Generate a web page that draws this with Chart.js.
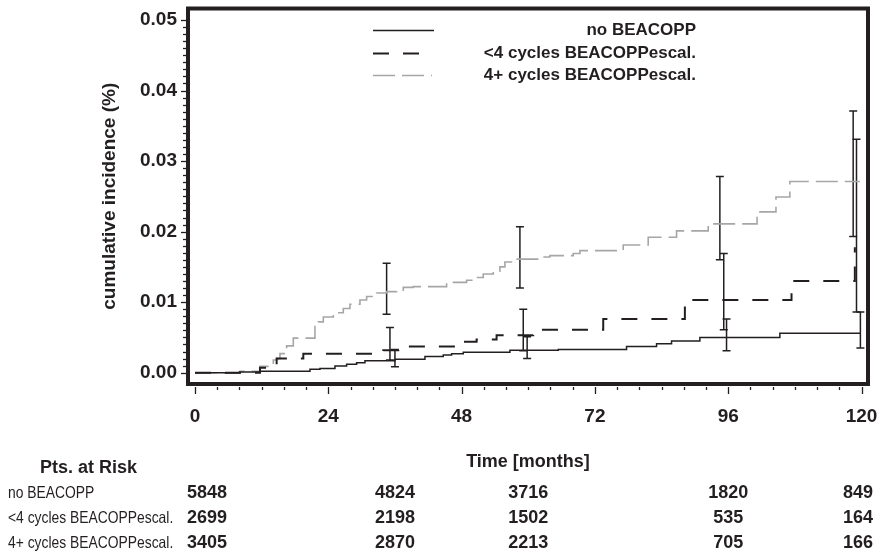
<!DOCTYPE html>
<html>
<head>
<meta charset="utf-8">
<script src="https://cdn.jsdelivr.net/npm/chart.js@4.4.1/dist/chart.umd.min.js"></script>
<style>
  html, body { margin: 0; padding: 0; background: #fff; }
  #wrap { width: 886px; height: 553px; }
</style>
</head>
<body>
<div id="wrap"><canvas id="c" width="886" height="553"></canvas></div>
<script>
// cumulative incidence curves, step points (month, value)
const noBeaMonths = [0, 8, 11.7, 20.7, 22.5, 25.2, 27.3, 29.1, 30.6, 36.0, 41.4, 44.7, 46.2, 48.3, 56.7, 65.4, 77.7, 83.1, 85.8, 90.9, 105.3, 119.8];
const noBeaValues = [0, 0.0001, 0.0002, 0.0005, 0.0006, 0.00095, 0.0012, 0.0014, 0.0017, 0.0019, 0.0023, 0.0025, 0.0027, 0.0029, 0.0032, 0.0033, 0.0037, 0.0041, 0.0045, 0.0050, 0.0056, 0.0056];

const lt4Months = [0, 11.7, 14.7, 19.5, 33.9, 36.6, 46.8, 50.7, 54.3, 60.9, 73.5, 88.2, 107.4, 118.8];
const lt4Values = [0, 0.0007, 0.0020, 0.0027, 0.0032, 0.0037, 0.0044, 0.0047, 0.0053, 0.0061, 0.0076, 0.0103, 0.0130, 0.0178];

const ge4Months = [0, 8.1, 11.7, 14.1, 14.7, 15.3, 16.5, 17.7, 21.6, 22.2, 23.1, 24.9, 26.7, 27.9, 29.7, 30.9, 32.7, 34.5, 36.3, 37.5, 39.3, 45.3, 48.9, 50.7, 51.9, 53.7, 54.9, 55.8, 57.3, 62.4, 63.9, 68.1, 69.3, 77.1, 81.6, 86.7, 92.4, 101.2, 104.6, 107.1, 119.7];
const ge4Values = [0, 0.0002, 0.0009, 0.0018, 0.0020, 0.0027, 0.0038, 0.0049, 0.0068, 0.0072, 0.0079, 0.0085, 0.0091, 0.0097, 0.0103, 0.0108, 0.0113, 0.0115, 0.0117, 0.0121, 0.0122, 0.0128, 0.0131, 0.0135, 0.0140, 0.0144, 0.0150, 0.0157, 0.0161, 0.0164, 0.0166, 0.0169, 0.0173, 0.0181, 0.0192, 0.0201, 0.0211, 0.0228, 0.0249, 0.0271, 0.0271];

// confidence intervals
const noBeaBarMonths = [36.0, 59.8, 95.7, 119.8];
const noBeaBarLo = [0.00085, 0.0020, 0.0031, 0.0035];
const noBeaBarHi = [0.0033, 0.0051, 0.0076, 0.0086];
const lt4BarMonths = [35.1, 59.1, 95.2, 119.1];
const lt4BarLo = [0.0018, 0.0031, 0.0061, 0.0086];
const lt4BarHi = [0.0064, 0.0090, 0.0169, 0.0331];
const ge4BarMonths = [34.5, 58.5, 94.5, 118.5];
const ge4BarLo = [0.0083, 0.0120, 0.0160, 0.0193];
const ge4BarHi = [0.0155, 0.0207, 0.0278, 0.0371];

// axes
const xTicks = [0, 24, 48, 72, 96, 120];
const yTicks = [0, 0.01, 0.02, 0.03, 0.04, 0.05];

// patients at risk
const riskMonths = [0, 36, 60, 96, 120];
const riskLabels = ['no BEACOPP', '<4 cycles BEACOPPescal.', '4+ cycles BEACOPPescal.'];
const riskNoBea = [5848, 4824, 3716, 1820, 849];
const riskLt4 = [2699, 2198, 1502, 535, 164];
const riskGe4 = [3405, 2870, 2213, 705, 166];

const FONT = '"Liberation Sans", Arial, sans-serif';
const INK = '#231f20';
const GRAY = '#a6a6a6';

function pts(xs, ys) {
  return xs.map((x, i) => ({ x: x, y: ys[i] }));
}

const curves = [
  { label: 'no BEACOPP', data: pts(noBeaMonths, noBeaValues), borderColor: INK, borderWidth: 1.5, borderDash: [], sample: 61 },
  { label: '<4 cycles BEACOPPescal.', data: pts(lt4Months, lt4Values), borderColor: INK, borderWidth: 2, borderDash: [16, 14], sample: 48 },
  { label: '4+ cycles BEACOPPescal.', data: pts(ge4Months, ge4Values), borderColor: GRAY, borderWidth: 1.6, borderDash: [22, 7], sample: 59 }
].map(d => Object.assign(d, { showLine: true, stepped: true, pointRadius: 0, fill: false }));

const bars = [];
[[noBeaBarMonths, noBeaBarLo, noBeaBarHi], [lt4BarMonths, lt4BarLo, lt4BarHi], [ge4BarMonths, ge4BarLo, ge4BarHi]].forEach(set => {
  set[0].forEach((m, i) => {
    bars.push({
      label: 'ci',
      data: [{ x: m, y: set[1][i] }, { x: m, y: set[2][i] }],
      showLine: true,
      borderColor: INK,
      borderWidth: 1.5,
      pointStyle: 'line',
      pointRadius: 4,
      pointBorderWidth: 1.5,
      pointBorderColor: INK,
      pointHoverRadius: 4
    });
  });
});

// draws text squeezed horizontally, to mimic the narrow font of the table
function narrowText(ctx, text, x, y, size, squeeze) {
  ctx.save();
  ctx.font = size + 'px ' + FONT;
  ctx.translate(x, y);
  ctx.scale(squeeze, 1);
  ctx.fillText(text, 0, 0);
  ctx.restore();
}

const framePlugin = {
  id: 'frame',
  afterDraw(chart) {
    const ctx = chart.ctx;
    const a = chart.chartArea;
    const xs = chart.scales.x, ys = chart.scales.y;
    ctx.save();
    // box
    ctx.strokeStyle = INK;
    ctx.lineWidth = 4;
    ctx.strokeRect(a.left, a.top, a.right - a.left, a.bottom - a.top);

    // x ticks
    ctx.lineWidth = 1.3;
    for (let m = 0; m <= 120; m += 4) {
      const px = Math.round(xs.getPixelForValue(m)) + 0.5;
      const major = m % 24 === 0;
      ctx.beginPath();
      ctx.moveTo(px, a.bottom + 3);
      ctx.lineTo(px, a.bottom + (major ? 10 : 6));
      ctx.stroke();
    }
    // y ticks
    for (let k = 0; k <= 50; k++) {
      const py = Math.round(ys.getPixelForValue(k / 1000)) + 0.5;
      const major = k % 10 === 0;
      ctx.beginPath();
      ctx.moveTo(a.left - 2, py);
      ctx.lineTo(a.left - (major ? 7 : 5), py);
      ctx.stroke();
    }

    // legend
    const rowsY = [30, 53, 75];
    ctx.font = 'bold 17px ' + FONT;
    ctx.textAlign = 'right';
    ctx.textBaseline = 'middle';
    curves.forEach((d, i) => {
      ctx.strokeStyle = d.borderColor;
      ctx.lineWidth = d.borderWidth;
      ctx.setLineDash(d.borderDash);
      ctx.beginPath();
      ctx.moveTo(373, rowsY[i] + 0.5);
      ctx.lineTo(373 + d.sample, rowsY[i] + 0.5);
      ctx.stroke();
      ctx.setLineDash([]);
      ctx.fillStyle = INK;
      ctx.fillText(d.label, 696, rowsY[i]);
    });

    // risk table
    ctx.textAlign = 'left';
    ctx.font = 'bold 18px ' + FONT;
    ctx.fillText('Pts. at Risk', 40, 468);
    const tableY = [493, 518, 543];
    const rows = [riskNoBea, riskLt4, riskGe4];
    rows.forEach((vals, r) => {
      ctx.textAlign = 'left';
      narrowText(ctx, riskLabels[r], 8, tableY[r], 16.5, 0.84);
      ctx.font = 'bold 18px ' + FONT;
      ctx.textAlign = 'center';
      vals.forEach((v, i) => {
        const s = String(v);
        const w = ctx.measureText(s).width;
        let px = xs.getPixelForValue(riskMonths[i]);
        px = Math.max(px, a.left + w / 2 - 1);
        px = Math.min(px, a.right + 5 - w / 2);
        ctx.fillText(s, px, tableY[r]);
      });
    });
    ctx.restore();
  }
};

function noOverhang(s) {
  s.paddingLeft = 0;
  s.paddingRight = 0;
  s.paddingTop = 0;
  s.paddingBottom = 0;
}

new Chart(document.getElementById('c'), {
  type: 'scatter',
  data: { datasets: curves.concat(bars) },
  options: {
    responsive: false,
    animation: false,
    events: [],
    layout: { padding: { top: 8.5, right: 18, left: 0, bottom: 0 } },
    plugins: {
      legend: { display: false },
      tooltip: { enabled: false }
    },
    scales: {
      x: {
        type: 'linear',
        min: -1.26,
        max: 121.17,
        grid: { display: false, drawTicks: false },
        border: { display: false },
        afterBuildTicks: s => { s.ticks = xTicks.map(v => ({ value: v })); },
        afterFit: s => { s.height = 169; noOverhang(s); },
        ticks: {
          padding: 21,
          color: INK,
          font: { family: FONT, size: 19, weight: 'bold' },
          callback: v => String(v)
        },
        title: {
          display: true,
          text: 'Time [months]',
          color: INK,
          font: { family: FONT, size: 18, weight: 'bold' },
          padding: { top: 0, bottom: 80 }
        }
      },
      y: {
        type: 'linear',
        min: -0.0016,
        max: 0.05163,
        grid: { display: false, drawTicks: false },
        border: { display: false },
        afterBuildTicks: s => { s.ticks = yTicks.map(v => ({ value: v })); },
        afterFit: s => { s.width = 188; noOverhang(s); },
        ticks: {
          padding: 11,
          color: INK,
          font: { family: FONT, size: 19, weight: 'bold' },
          callback: v => Number(v).toFixed(2)
        },
        title: {
          display: true,
          text: 'cumulative incidence (%)',
          color: INK,
          font: { family: FONT, size: 19, weight: 'bold' },
          padding: { top: 98, bottom: 0 }
        }
      }
    }
  },
  plugins: [framePlugin]
});
</script>
</body>
</html>
